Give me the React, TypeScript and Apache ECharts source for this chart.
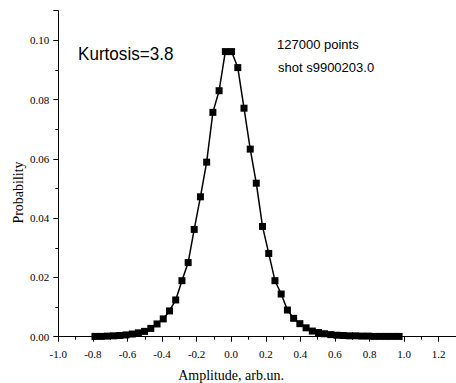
import React, { useEffect, useRef } from "react";
import * as echarts from "echarts";

const amplitude = [
  -0.788, -0.752, -0.716, -0.68, -0.644, -0.608, -0.572, -0.537, -0.501, -0.465,
  -0.429, -0.393, -0.357, -0.321, -0.285, -0.249, -0.214, -0.178, -0.142, -0.106,
  -0.07, -0.034, 0.002, 0.038, 0.074, 0.11, 0.145, 0.181, 0.217, 0.253,
  0.289, 0.325, 0.361, 0.397, 0.433, 0.469, 0.505, 0.54, 0.576, 0.612,
  0.648, 0.684, 0.72, 0.756, 0.792, 0.828, 0.863, 0.899, 0.935, 0.971,
];
const probability = [
  0.0001, 0.0001, 0.0002, 0.0003, 0.0004, 0.0006, 0.0009, 0.0013, 0.0018, 0.0028,
  0.0043, 0.006, 0.0087, 0.0124, 0.0189, 0.025, 0.0362, 0.0472, 0.0589, 0.0757,
  0.083, 0.0962, 0.0962, 0.0908, 0.0771, 0.0633, 0.0518, 0.0372, 0.0281, 0.0189,
  0.0144, 0.009, 0.0062, 0.0044, 0.003, 0.0019, 0.0014, 0.001, 0.0007, 0.0005,
  0.0004, 0.0003, 0.0003, 0.0002, 0.0002, 0.0001, 0.0001, 0.0001, 0.0001, 0.0001,
];
const xTitle = "Amplitude, arb.un.";
const yTitle = "Probability";
const kurtosisText = "Kurtosis=3.8";
const pointsText = "127000 points";
const shotText = "shot s9900203.0";

const serif = "'Liberation Serif', 'Times New Roman', serif";
const sans = "'Liberation Sans', Arial, sans-serif";

export default function App() {
  const ref = useRef<HTMLDivElement>(null);
  useEffect(() => {
    if (!ref.current) return;
    const chart = echarts.init(ref.current, null, { renderer: "svg" });
    const axisCommon = {
      axisLine: { show: true, onZero: false, lineStyle: { color: "#000", width: 1 } },
      axisTick: { show: true, inside: false, length: 5, lineStyle: { color: "#000", width: 1 } },
      minorTick: { show: true, splitNumber: 2, length: 3, lineStyle: { color: "#000", width: 1 } },
      splitLine: { show: false },
      minorSplitLine: { show: false },
    };
    chart.setOption({
      animation: false,
      backgroundColor: "#fff",
      grid: { left: 58.3, right: -1, top: 10.7, bottom: 46.3, containLabel: false },
      xAxis: {
        type: "value",
        min: -1.0,
        max: 1.3,
        interval: 0.2,
        ...axisCommon,
        axisLabel: {
          color: "#000",
          fontFamily: serif,
          fontSize: 11,
          margin: 12,
          showMaxLabel: false,
          formatter: (v: number) => v.toFixed(1),
        },
      },
      yAxis: {
        type: "value",
        min: 0,
        max: 0.11,
        interval: 0.02,
        ...axisCommon,
        axisLabel: {
          color: "#000",
          fontFamily: serif,
          fontSize: 11,
          margin: 9,
          showMaxLabel: false,
          formatter: (v: number) => v.toFixed(2),
        },
      },
      series: [
        {
          type: "line",
          data: amplitude.map((x, i) => [x, probability[i]]),
          symbol: "rect",
          symbolSize: 7,
          itemStyle: { color: "#000" },
          lineStyle: { color: "#000", width: 1.5 },
        },
      ],
      graphic: [
        {
          type: "text",
          x: 78,
          y: 54,
          scaleX: 0.95,
          style: {
            text: kurtosisText,
            fontFamily: sans,
            fontSize: 18,
            fill: "#000",
            textAlign: "left",
            textVerticalAlign: "middle",
          },
        },
        {
          type: "text",
          x: 277,
          y: 44,
          style: {
            text: pointsText,
            fontFamily: sans,
            fontSize: 13,
            fill: "#000",
            textAlign: "left",
            textVerticalAlign: "middle",
          },
        },
        {
          type: "text",
          x: 278,
          y: 67,
          style: {
            text: shotText,
            fontFamily: sans,
            fontSize: 13,
            fill: "#000",
            textAlign: "left",
            textVerticalAlign: "middle",
          },
        },
        {
          type: "text",
          x: 18.5,
          y: 192.5,
          rotation: Math.PI / 2,
          style: {
            text: yTitle,
            fontFamily: serif,
            fontSize: 14,
            fill: "#000",
            textAlign: "center",
            textVerticalAlign: "middle",
          },
        },
        {
          type: "text",
          x: 231,
          y: 375.5,
          style: {
            text: xTitle,
            fontFamily: serif,
            fontSize: 14,
            fill: "#000",
            textAlign: "center",
            textVerticalAlign: "middle",
          },
        },
      ],
    });
    return () => chart.dispose();
  }, []);
  return (
    <div
      ref={ref}
      style={{ position: "absolute", left: 0, top: 0, width: 456, height: 383, background: "#fff" }}
    />
  );
}
